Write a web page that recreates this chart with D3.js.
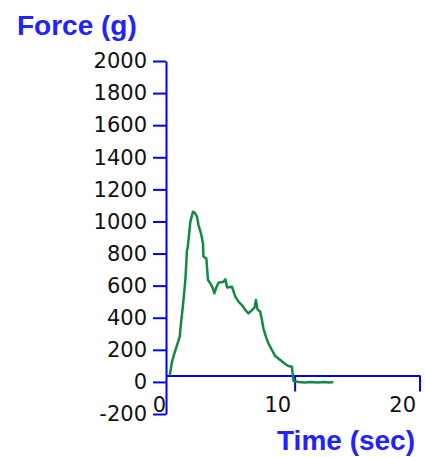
<!DOCTYPE html>
<html>
<head>
<meta charset="utf-8">
<script src="https://cdn.jsdelivr.net/npm/d3@7"></script>
<style>
  body { margin: 0; background: #fff; }
  svg { display: block; }
</style>
</head>
<body>
<div id="chart"></div>
<script>
// force curve (seconds, grams)
const timeSec = [0, 0.18, 0.37, 0.63, 0.8, 0.9, 1.06, 1.25, 1.38, 1.43, 1.65, 1.86, 2.0, 2.18, 2.3, 2.5, 2.66, 2.7, 2.93, 3.06, 3.25, 3.46, 3.57, 3.73, 3.9, 4.3, 4.45, 4.6, 4.98, 5.25, 5.5, 5.78, 6.05, 6.3, 6.58, 6.8, 6.9, 7.03, 7.25, 7.38, 7.5, 7.7, 7.9, 8.18, 8.45, 8.85, 9.25, 9.5, 9.78, 9.86, 9.92, 10.3, 10.8, 11.3, 11.8, 12.3, 12.8, 13.1];
const forceG = [40, 126, 178, 240, 282, 365, 479, 635, 822, 832, 998, 1060, 1055, 1030, 978, 926, 864, 780, 770, 635, 614, 583, 552, 589, 618, 624, 640, 589, 593, 531, 500, 479, 448, 427, 448, 465, 510, 452, 437, 386, 334, 282, 240, 199, 161, 136, 112, 99, 95, 37, 5, 0, -4, 0, -4, 0, -4, 0];

const yTicks = [-200, 0, 200, 400, 600, 800, 1000, 1200, 1400, 1600, 1800, 2000];
const xTicks = [0, 10, 20];

const width = 425, height = 457;
const blue = '#0000ff';

const svg = d3.select('#chart').append('svg')
  .attr('width', width)
  .attr('height', height)
  .style('font-family', '"DejaVu Sans", sans-serif');

const x = d3.scaleLinear().domain([-0.3, 20]).range([166, 419.5]);
const y = d3.scaleLinear().domain([-200, 2000]).range([414, 61]);

// y axis
const yAxis = svg.append('g')
  .attr('transform', `translate(${x(-0.3)},0)`)
  .call(d3.axisLeft(y).tickValues(yTicks).tickFormat(d => String(d))
    .tickSize(13).tickSizeOuter(0).tickPadding(6));

// x axis sits a little above zero, as in the original
const xAxis = svg.append('g')
  .attr('transform', `translate(0,${y(40)})`)
  .call(d3.axisBottom(x).tickValues(xTicks).tickFormat(d => String(d))
    .tickSize(16).tickSizeOuter(0));

[yAxis, xAxis].forEach(g => {
  g.selectAll('path, line').attr('stroke', blue).attr('stroke-width', 2);
  g.selectAll('text').attr('fill', '#111').style('font-size', '21px').style('font-family', '"DejaVu Sans", sans-serif');
});

// the zero tick hides behind the y axis in the original
xAxis.selectAll('.tick').filter(d => d === 0).select('line').remove();

xAxis.selectAll('text')
  .attr('text-anchor', 'end')
  .attr('x', -4)
  .attr('y', 37)
  .attr('dy', 0);

// data line
const line = d3.line()
  .x((d, i) => x(timeSec[i]))
  .y(d => y(d));

svg.append('path')
  .datum(forceG)
  .attr('fill', 'none')
  .attr('stroke', '#138a43')
  .attr('stroke-width', 2.5)
  .attr('stroke-linejoin', 'round')
  .attr('d', line);

// axis titles
svg.append('text')
  .attr('x', 17)
  .attr('y', 35)
  .attr('fill', '#2222ff')
  .style('font-family', '"Liberation Sans", Arial, sans-serif')
  .style('font-weight', 'bold')
  .style('font-size', '28px')
  .text('Force (g)');

svg.append('text')
  .attr('x', 415)
  .attr('y', 450)
  .attr('text-anchor', 'end')
  .attr('fill', '#2222ff')
  .style('font-family', '"Liberation Sans", Arial, sans-serif')
  .style('font-weight', 'bold')
  .style('font-size', '28px')
  .text('Time (sec)');
</script>
</body>
</html>
